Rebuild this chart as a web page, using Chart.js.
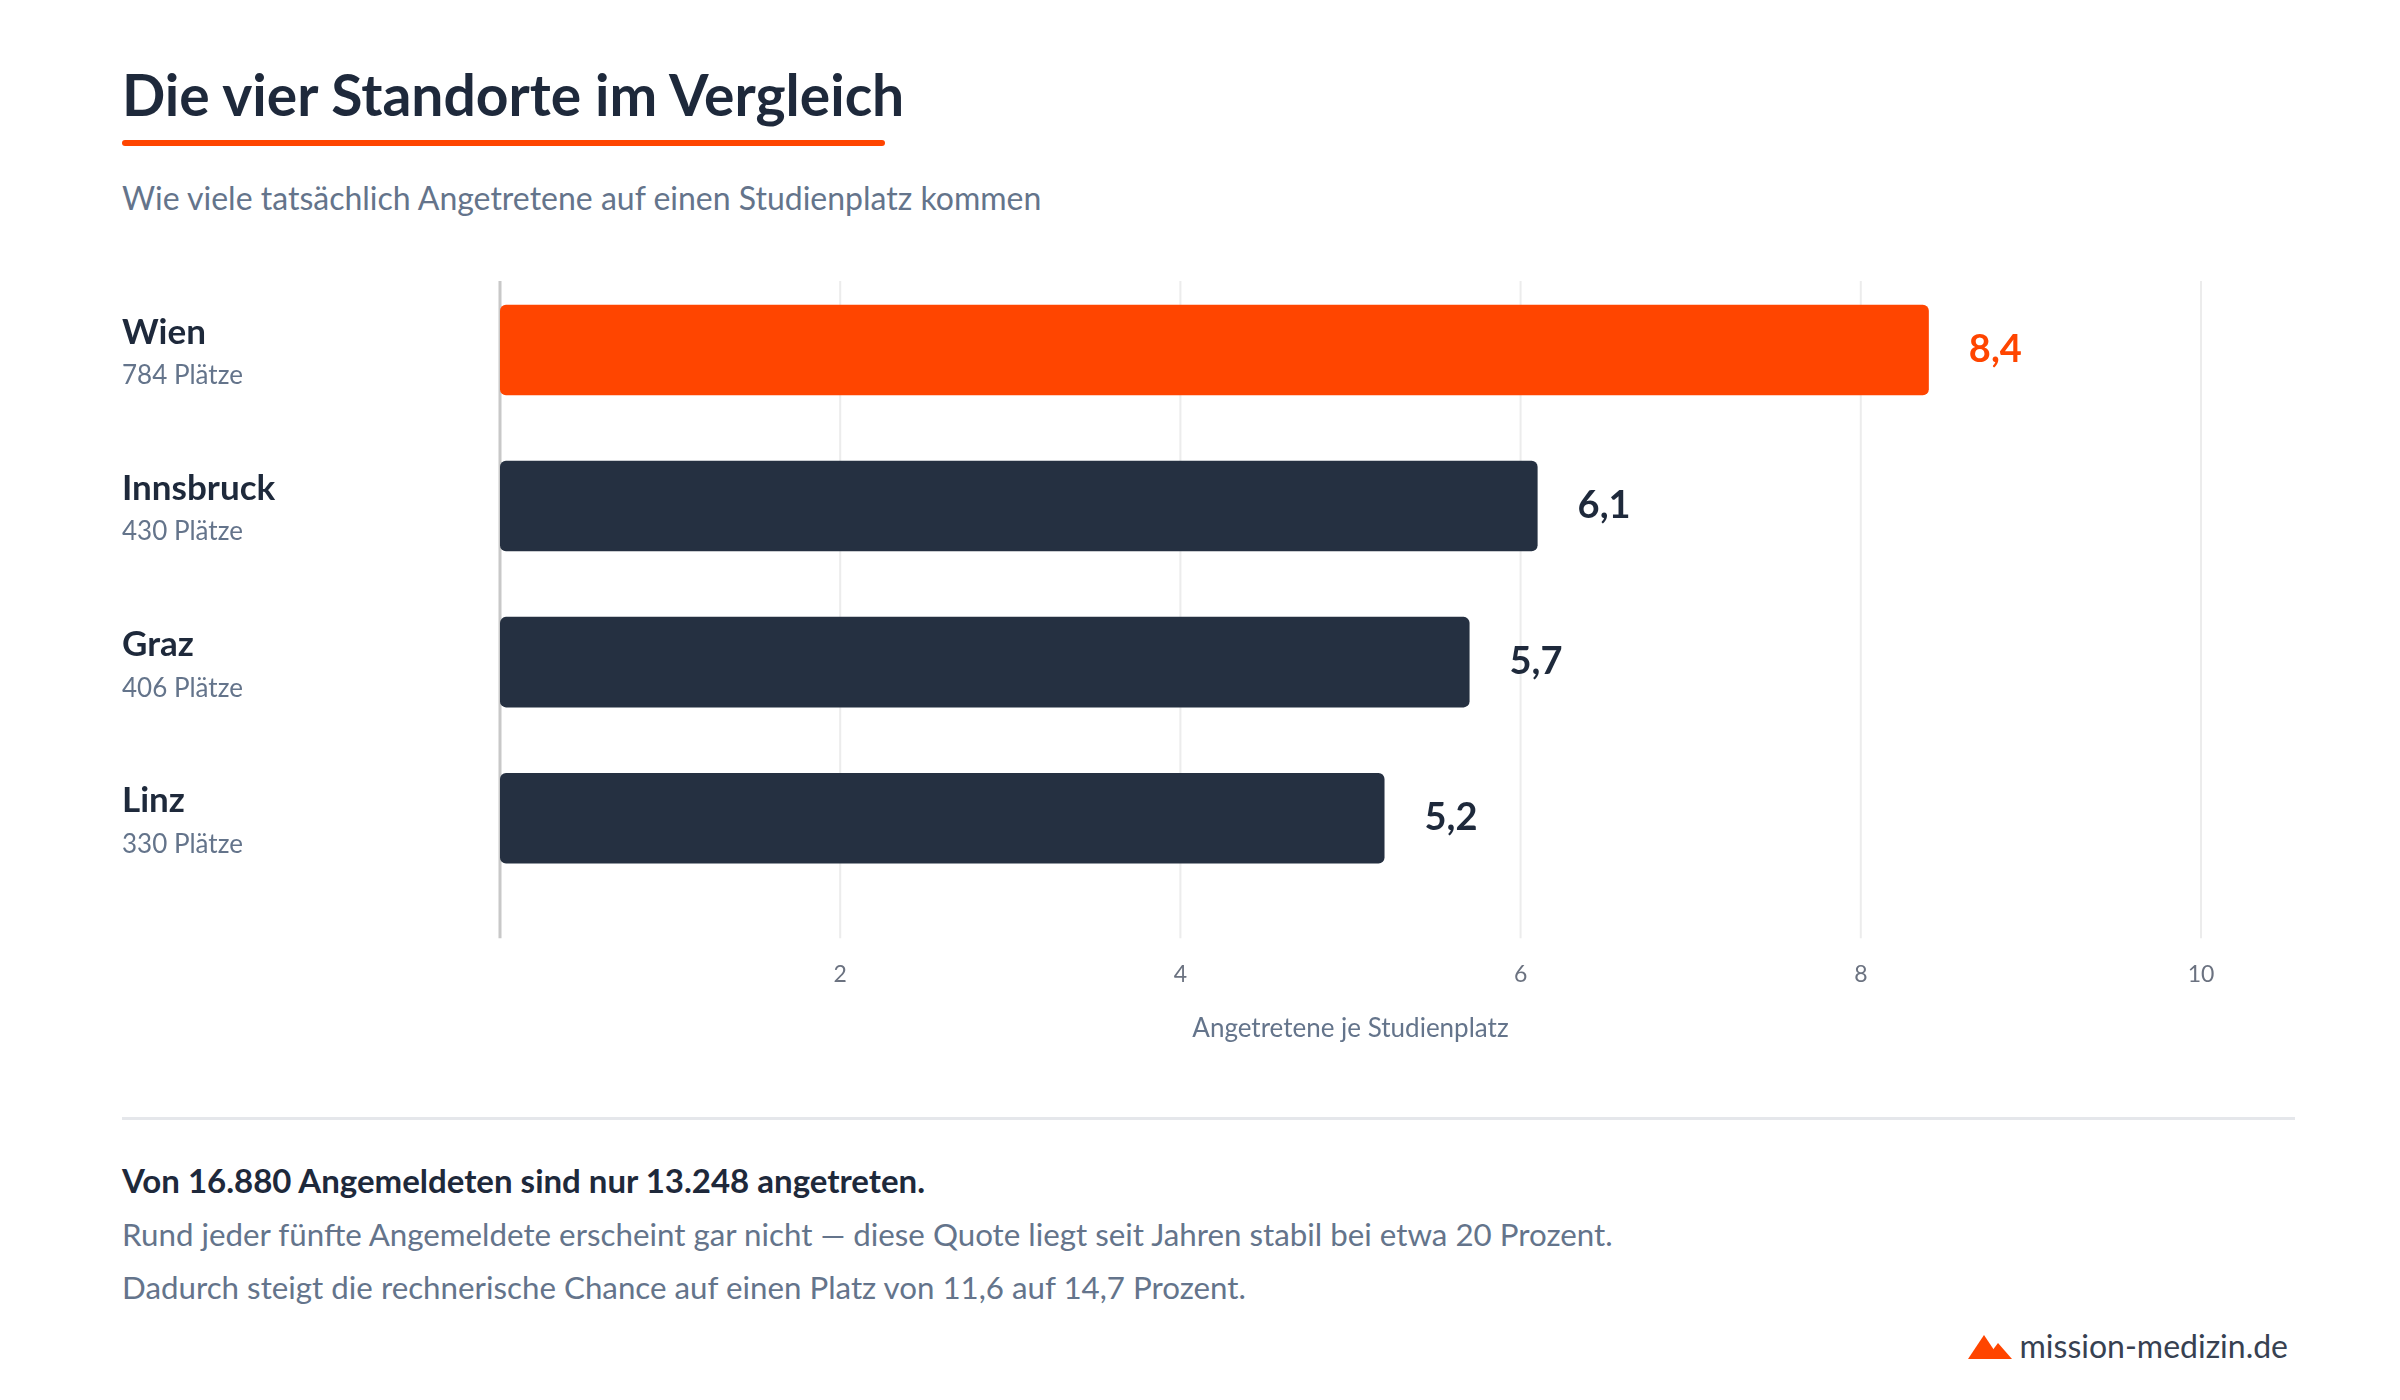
<!DOCTYPE html>
<html><head><meta charset="utf-8">
<script src="https://cdn.jsdelivr.net/npm/chart.js@4/dist/chart.umd.min.js"></script>
<style>
body{margin:0;width:2400px;height:1400px;background:#fff;font-family:Lato,sans-serif;position:relative;overflow:hidden}
.a{position:absolute;white-space:nowrap}
</style></head><body>
<div class="a" style="left:122px;top:60px;font-size:57px;font-weight:700;color:#1e293b">Die vier Standorte im Vergleich</div>
<div class="a" style="left:122px;top:140px;width:763px;height:6px;background:#ff4500;border-radius:3px"></div>
<div class="a" style="left:122px;top:178px;font-size:32px;color:#64748b">Wie viele tatsächlich Angetretene auf einen Studienplatz kommen</div>
<div class="a" style="left:0;top:260px;width:2400px;height:788px"><canvas id="c"></canvas></div>
<div class="a" style="left:122px;top:1117px;width:2173px;height:3px;background:#e5e7eb"></div>
<div class="a" style="left:122px;top:1160px;font-size:33px;font-weight:700;color:#1e293b">Von 16.880 Angemeldeten sind nur 13.248 angetreten.</div>
<div class="a" style="left:122px;top:1215px;font-size:31.3px;color:#64748b">Rund jeder fünfte Angemeldete erscheint gar nicht — diese Quote liegt seit Jahren stabil bei etwa 20 Prozent.</div>
<div class="a" style="left:122px;top:1268px;font-size:31.3px;color:#64748b">Dadurch steigt die rechnerische Chance auf einen Platz von 11,6 auf 14,7 Prozent.</div>
<div class="a" style="right:112px;top:1326px;font-size:32px;color:#374151;display:flex;align-items:center;gap:8px">
<svg width="44" height="26" viewBox="0 0 44 26"><polygon points="0,26 16,2 32,26" fill="#ff4500"/><polygon points="18,26 30,10 44,26" fill="#ff4500"/></svg>mission-medizin.de</div>
<script>
const categories=["Wien","Innsbruck","Graz","Linz"];
const places=["784 Plätze","430 Plätze","406 Plätze","330 Plätze"];
const values=[8.4,6.1,5.7,5.2];
const labels=["8,4","6,1","5,7","5,2"];
const colors=["#ff4500","#253041","#253041","#253041"];
const xTicks=[2,4,6,8,10];
const grid={id:'grid',beforeDatasetsDraw(ch){
 const ctx=ch.ctx,x=ch.scales.x,a=ch.chartArea;
 ctx.save();
 xTicks.forEach(v=>{const p=x.getPixelForValue(v);ctx.strokeStyle='#ececec';ctx.lineWidth=2;ctx.beginPath();ctx.moveTo(p,a.top+9);ctx.lineTo(p,a.bottom+42);ctx.stroke();});
 const p0=x.getPixelForValue(0);ctx.strokeStyle='#c8c8c8';ctx.lineWidth=3;ctx.beginPath();ctx.moveTo(p0,a.top+9);ctx.lineTo(p0,a.bottom+42);ctx.stroke();
 ctx.restore();}};
const plug={id:'lbl',afterDatasetsDraw(ch){
 const ctx=ch.ctx,meta=ch.getDatasetMeta(0);
 ctx.save();ctx.textBaseline='middle';
 meta.data.forEach((b,i)=>{
  ctx.font='700 38px Lato';ctx.fillStyle=i===0?'#ff4500':'#1e293b';ctx.textAlign='left';
  ctx.fillText(labels[i],b.x+40,b.y);
  ctx.font='700 35px Lato';ctx.fillStyle='#1e293b';
  ctx.fillText(categories[i],122,b.y-17);
  ctx.font='26px Lato';ctx.fillStyle='#64748b';
  ctx.fillText(places[i],122,b.y+26);
 });ctx.restore();}};
new Chart(document.getElementById('c'),{type:'bar',
 data:{labels:categories,datasets:[{data:values,backgroundColor:colors,borderRadius:6,borderSkipped:false,categoryPercentage:0.58,barPercentage:1}]},
 options:{indexAxis:'y',responsive:true,maintainAspectRatio:false,animation:false,
  layout:{padding:{left:492,right:199,top:12,bottom:0}},
  plugins:{legend:{display:false},tooltip:{enabled:false}},
  scales:{
   x:{min:0,max:10,afterBuildTicks(s){s.ticks=xTicks.map(v=>({value:v}));},
    grid:{display:true,color:'rgba(0,0,0,0)',drawOnChartArea:false,drawTicks:true,tickLength:41},border:{display:false},
    ticks:{color:'#6b7280',font:{size:23,family:'Lato'},padding:24},
    title:{display:true,text:'Angetretene je Studienplatz',color:'#64748b',font:{size:26,family:'Lato'},padding:{top:0}}},
   y:{grid:{display:false},ticks:{display:false},border:{display:false}}
  }},plugins:[grid,plug]});
</script></body></html>
